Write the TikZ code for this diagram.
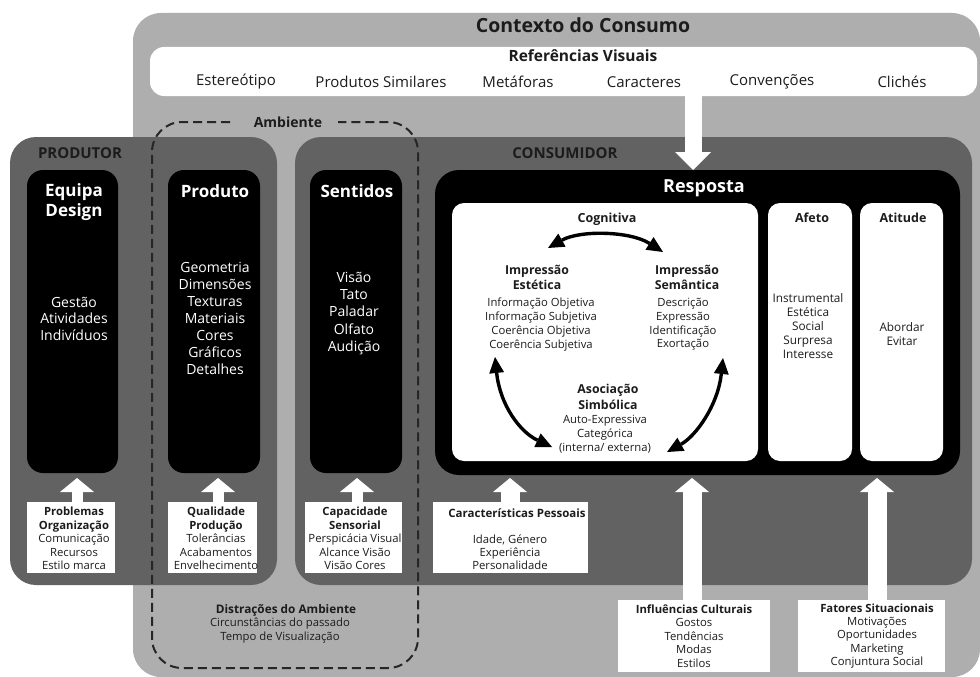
\documentclass[tikz,border=0pt]{standalone}
\usepackage{fontspec}
\setmainfont{Open Sans}
\usetikzlibrary{arrows.meta,fit,calc}
\definecolor{lgray}{RGB}{174,174,174}
\definecolor{dgray}{RGB}{98,98,98}
\definecolor{txt}{RGB}{28,28,28}
\newcommand\fs[2]{\fontsize{#1}{#2}\selectfont}
\begin{document}
\begin{tikzpicture}[x=1pt,y=-1pt,
  every node/.style={inner sep=0pt,outer sep=0pt},
  panel/.style={fill=dgray,rounded corners=26pt},
  blk/.style={fill=black,rounded corners=16pt},
  wht/.style={fill=white,rounded corners=12pt},
  sqr/.style={fill=white},
  ttl/.style={font=\fs{17}{20}\bfseries,text=white,align=center},
  itw/.style={font=\fs{14}{16.8},text=white,align=center},
  sect/.style={font=\fs{15}{17}\bfseries,text=txt},
  hd/.style={font=\fs{12.5}{15}\bfseries,text=txt,align=center},
  it/.style={font=\fs{11.3}{13.7},text=txt,align=center},
  bt/.style={font=\fs{11.3}{13.4},text=txt,align=center},
  refit/.style={font=\fs{15}{17},text=txt},
  barrow/.style={draw=white,line width=#1,-{Triangle[length=14pt,width=34pt,line width=0pt]}},
  cogarrow/.style={line width=3.4pt,{Triangle[length=16pt,width=15pt,line width=0pt]}-{Triangle[length=16pt,width=15pt,line width=0pt]}},
  dashline/.style={draw=black!85,line width=2pt,dash pattern=on 9pt off 5pt,rounded corners=30pt}
]
\useasboundingbox (0,0) rectangle (980,677);
\fill[white] (0,0) rectangle (980,677);

% containers
\node[fit={(133,13)(980,677)},fill=lgray,rounded corners=28pt] (ctx) {};
\node[fit={(150,47)(977,96)},fill=white,rounded corners=14pt] (ref) {};
\node[fit={(10,137)(277,585)},panel] (prod) {};
\node[fit={(295,137)(972,585)},panel] (cons) {};
\node[fit={(27,170)(118,473)},blk] (equipa) {};
\node[fit={(168,170)(260,473)},blk] (produto) {};
\node[fit={(310,170)(402,473)},blk] (sentidos) {};
\node[fit={(435,170)(960,475)},blk,rounded corners=24pt] (resp) {};
\node[fit={(452,203)(758,461)},wht] (cog) {};
\node[fit={(768,203)(852,461)},wht] (afeto) {};
\node[fit={(860,203)(943,461)},wht] (atit) {};
\node[fit={(27,502)(115,573)},sqr] (probl) {};
\node[fit={(168,502)(257,573)},sqr] (qual) {};
\node[fit={(305,502)(402,573)},sqr] (capac) {};
\node[fit={(433,502)(588,573)},sqr] (carac) {};
\node[fit={(618,600)(770,672)},sqr] (influ) {};
\node[fit={(798,600)(945,672)},sqr] (fator) {};

% ambiente dashed region
\node[font=\fs{14}{17}\bfseries,text=txt] (amb) at (288,122) {Ambiente};
\coordinate (da) at (230,122);
\coordinate (db) at (338,122);
\draw[dashline] (da) -- (152,122) -- (152,668) -- (418,668) -- (418,122) -- (db);

% top texts
\node[font=\fs{19.5}{22}\bfseries,text=txt] (tctx) at (583,25) {Contexto do Consumo};
\node[font=\fs{15.5}{18}\bfseries,text=txt] (tref) at (583,56) {Referências Visuais};
\node[refit] (r1) at (236,82) {Estereótipo};
\node[refit] (r2) at (381,82) {Produtos Similares};
\node[refit] (r3) at (518,82) {Metáforas};
\node[refit] (r4) at (644,82) {Caracteres};
\node[refit] (r5) at (772,82) {Convenções};
\node[refit] (r6) at (902,82) {Clichés};

\node[sect] (tprod) at (80,153) {PRODUTOR};
\node[sect] (tcons) at (565,153) {CONSUMIDOR};

% black columns
\node[ttl] (teq) at (74,202) {Equipa\\Design};
\node[itw,font=\fs{14}{16.5}] (ieq) at (74,318.5) {Gestão\\Atividades\\Indivíduos};
\node[ttl] (tpr) at (215,191) {Produto};
\node[itw,font=\fs{14}{17}] (ipr) at (215,318) {Geometria\\Dimensões\\Texturas\\Materiais\\Cores\\Gráficos\\Detalhes};
\node[ttl] (tse) at (357,191) {Sentidos};
\node[itw,font=\fs{14}{17.2}] (ise) at (354,313.5) {Visão\\Tato\\Paladar\\Olfato\\Audição};

% resposta
\node[font=\fs{18}{22}\bfseries,text=white] (tresp) at (704,188) {Resposta};
\node[hd] (tcog) at (607,219) {Cognitiva};
\node[hd] (tafe) at (812,218) {Afeto};
\node[hd] (tati) at (903,218) {Atitude};
\node[hd,font=\fs{12.3}{15}\bfseries] (iest) at (537,277.5) {Impressão\\Estética};
\node[it] (lest) at (541,324.5) {Informação Objetiva\\Informação Subjetiva\\Coerência Objetiva\\Coerência Subjetiva};
\node[hd,font=\fs{12.3}{15}\bfseries] (isem) at (687,277.5) {Impressão\\Semântica};
\node[it] (lsem) at (683,324.5) {Descrição\\Expressão\\Identificação\\Exortação};
\node[hd,font=\fs{12.3}{15.5}\bfseries] (asim) at (608,397) {Asociação\\Simbólica};
\node[it,font=\fs{11.3}{14}] (lsim) at (605,434) {Auto-Expressiva\\Categórica\\(interna/ externa)};
\node[it,font=\fs{11.8}{14}] (lafe) at (808,326) {Instrumental\\Estética\\Social\\Surpresa\\Interesse};
\node[it,font=\fs{11.8}{14}] (lati) at (902,334) {Abordar\\Evitar};

\coordinate (ca1) at (548,248);
\coordinate (ca2) at (663,252);
\coordinate (cl1) at (495,357);
\coordinate (cl2) at (552,447);
\coordinate (cr1) at (723,358);
\coordinate (cr2) at (667,452);
\draw[cogarrow] (ca1) .. controls (580,230) and (630,231) .. (ca2);
\draw[cogarrow] (cl1) .. controls (500,405) and (520,432) .. (cl2);
\draw[cogarrow] (cr1) .. controls (718,405) and (696,436) .. (cr2);

% bottom texts
\node[bt] (tprobl) at (74,538.5) {\textbf{Problemas}\\\textbf{Organização}\\Comunicação\\Recursos\\Estilo marca};
\node[bt] (tqual) at (216,538.5) {\textbf{Qualidade}\\\textbf{Produção}\\Tolerâncias\\Acabamentos\\Envelhecimento};
\node[bt] (tcapac) at (355,538.5) {\textbf{Capacidade}\\\textbf{Sensorial}\\Perspicácia Visual\\Alcance Visão\\Visão Cores};
\node[bt,font=\fs{11.5}{14}\bfseries] (tcarac) at (517,513) {Características Pessoais};
\node[bt,font=\fs{11.3}{13}] (lcarac) at (510,552) {Idade, Género\\Experiência\\Personalidade};
\node[bt] (tinflu) at (694,636) {\textbf{Influências Culturais}\\Gostos\\Tendências\\Modas\\Estilos};
\node[bt] (tfator) at (877,636) {\textbf{Fatores Situacionais}\\Motivações\\Oportunidades\\Marketing\\Conjuntura Social};
\node[bt,font=\fs{11.8}{14}\bfseries] (tdis) at (286,610) {Distrações do Ambiente};
\node[bt,font=\fs{11.3}{14}] (ldis) at (280,631) {Circunstâncias do passado\\Tempo de Visualização};

% block arrows
\draw[barrow=17pt,-{Triangle[length=18pt,width=36pt,line width=0pt]}] ($(resp.north |- ref.south)+(-4.5,0)$) -- ($(resp.north)+(-4.5,0)$);
\draw[barrow=11pt] ($(probl.north)+(6,0)$) -- ($(probl.north |- equipa.south)+(6,5)$);
\draw[barrow=11pt] ($(qual.north)+(5.5,0)$) -- ($(qual.north |- produto.south)+(5.5,5)$);
\draw[barrow=11pt] ($(capac.north)+(3.5,0)$) -- ($(capac.north |- sentidos.south)+(3.5,5)$);
\draw[barrow=19pt] ($(carac.north)+(-0.5,0)$) -- ($(carac.north |- resp.south)+(-0.5,3)$);
\draw[barrow=19pt] ($(influ.north)+(-2,0)$) -- ($(influ.north |- resp.south)+(-2,3)$);
\draw[barrow=19pt] ($(fator.north)+(5.5,0)$) -- ($(fator.north |- resp.south)+(5.5,3)$);
\end{tikzpicture}
\end{document}
